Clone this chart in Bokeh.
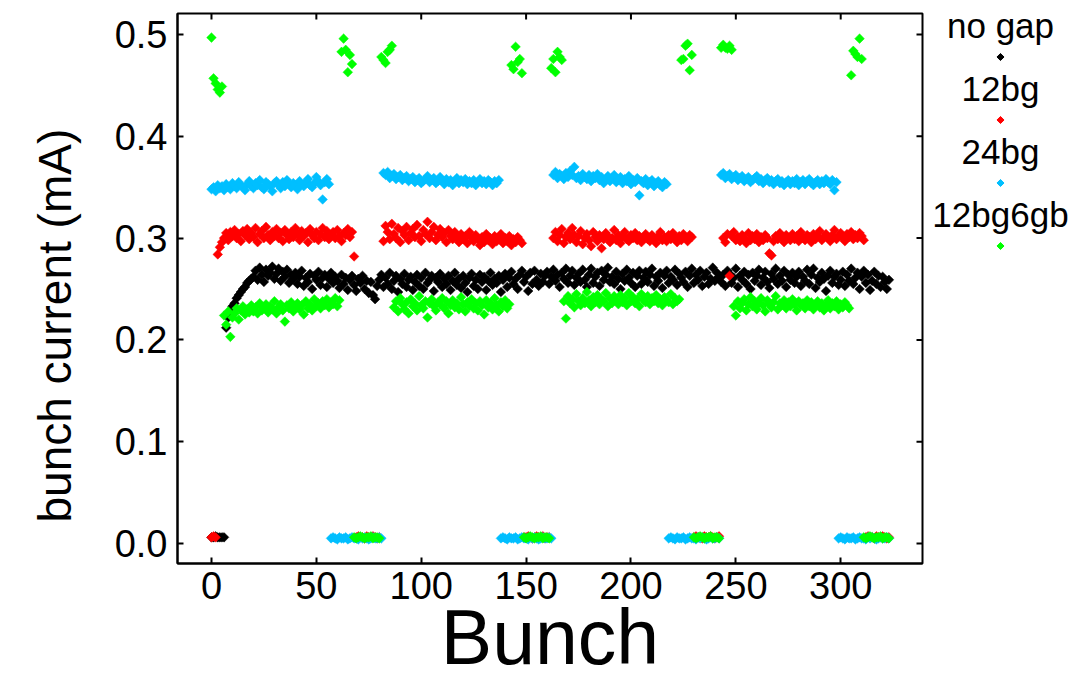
import math
from bokeh.plotting import figure
from bokeh.layouts import row
from bokeh.models import Range1d, FixedTicker, ColumnDataSource, Title
from bokeh.core.properties import value
from bokeh.embed import file_html
from bokeh.resources import INLINE

FONT = "Liberation Sans"

series_names = ["no gap", "12bg", "24bg", "12bg6gb"]
series_colors = ["#000000", "#ff0000", "#00bfff", "#00ff00"]

# Each series: runs of (first bunch number, bunch currents in units of 0.001 mA)
nogap_runs = [
    (0, [6, 6, 7, 6, 6, 6, 6]),
    (7, [212, 222, 228, 233, 236, 241, 244, 247, 250, 252, 256, 258, 260,
         262, 268, 259, 271, 264, 257, 269, 263, 266, 272, 260, 265, 270, 258, 267, 262, 269, 256, 264, 260,
         266, 255, 262, 268, 253, 261, 257, 265, 250, 263, 259, 267, 254, 261, 264, 252, 260, 266, 256, 262,
         258, 251, 264, 255, 261, 249, 259, 263, 254, 248, 260, 256, 263, 250, 258, 246, 257, 244, 240, 253,
         259, 264, 252, 261, 255, 266, 250, 258, 263, 247, 260, 255, 265, 252, 259, 262, 249, 257, 264, 253,
         261, 250, 266, 256, 259, 263, 248, 261, 257, 265, 252, 260, 255, 263, 249, 258, 266, 254, 260, 251,
         263, 256, 247, 261, 265, 253, 259, 250, 264, 257, 262, 249, 258, 266, 254, 260, 256, 263, 247, 259,
         265, 252, 261, 267, 255, 260, 250, 264, 268, 257, 262, 248, 266, 255, 268, 259, 253, 265, 257, 263,
         267, 255, 262, 269, 258, 264, 252, 266, 260, 270, 256, 263, 268, 254, 261, 265, 257, 269, 259, 252,
         264, 270, 256, 262, 266, 253, 268, 259, 264, 271, 257, 262, 255, 267, 260, 250, 265, 258, 269, 261,
         256, 266, 252, 263, 268, 255, 261, 267, 257, 264, 270, 253, 262, 258, 266, 251, 263, 268, 256, 262,
         259, 269, 254, 265, 261, 257, 267, 252, 263, 270, 256, 264, 259, 268, 253, 262, 266, 255, 260, 271,
         258, 266, 262, 257, 264, 253, 268, 265, 256, 261, 270, 252, 263, 259, 267, 255, 264, 250, 266, 258,
         263, 269, 254, 261, 267, 257, 251, 265, 260, 270, 255, 263, 258, 268, 252, 264, 259, 266, 256, 262,
         267, 253, 262, 258, 269, 255, 264, 270, 251, 261, 257, 266, 260, 248, 263, 268, 256, 262, 265, 254,
         259, 267, 253, 264, 258, 270, 255, 261, 266, 250, 262, 268, 256, 264, 249, 258, 267, 255, 263, 252,
         262, 257, 250, 259]),
]

bg12_runs = [
    (0, [6, 7, 6]),
    (3, [284, 291, 296, 300, 305, 298, 306, 302, 308, 300, 304, 297, 307, 303, 309, 299, 305, 301, 310, 296,
         304, 307, 300, 311, 303, 298, 306, 302, 309, 300, 305, 297, 308, 303, 299, 306, 301, 310, 304, 298,
         307, 302, 305, 296, 309, 303, 300, 306, 298, 304, 310, 301, 307, 299, 303, 306, 300, 308, 302, 297,
         305, 303, 309, 301, 306, 282]),
    (69, [6, 7, 6, 6, 5, 7, 6, 6, 7, 6, 5, 6]),
    (82, [297, 312, 306, 299, 314, 304, 300, 310, 296, 307, 303, 311, 298, 305, 309, 301, 313, 302, 297, 308,
          304, 316, 300, 306, 311, 298, 303, 309, 301, 305, 296, 308, 302, 299, 306, 301, 296, 304, 299, 302,
          295, 306, 300, 297, 303, 299, 293, 301, 296, 304, 298, 300, 294, 302, 297, 299, 304, 295, 300, 297,
          302, 293, 299, 296, 301, 298, 295]),
    (149, [6, 6, 7, 6, 5, 6, 7, 6, 6, 7, 5, 6, 6]),
    (163, [300, 306, 297, 303, 309, 295, 301, 305, 299, 310, 303, 296, 302, 307, 294, 300, 304, 298, 292, 306,
           301, 297, 303, 290, 299, 305, 302, 296, 300, 308, 298, 303, 295, 301, 306, 299, 297, 303, 300, 305,
           298, 302, 296, 301, 304, 299, 297, 303, 300, 295, 302, 306, 298, 301, 297, 303, 299, 305, 300, 296,
           302, 298, 304, 300, 297, 303, 301]),
    (230, [6, 7, 6, 6, 5, 7, 6, 6, 7, 6, 5, 6, 7]),
    (244, [300, 296, 304, 263, 302, 306, 298, 301, 297, 303, 300, 295, 305, 298, 302, 299, 304, 296, 301, 298,
           303, 300, 285, 283, 297, 302, 299, 305, 301, 296, 303, 300, 298, 304, 299, 302, 297, 306, 300, 298,
           303, 301, 296, 304, 299, 302, 307, 298, 301, 304, 300, 297, 303, 308, 299, 302, 305, 300, 297, 304,
           301, 306, 299, 303, 300, 305, 302, 298]),
    (312, [6, 7, 6, 6, 5, 7, 6, 6, 7, 6, 5, 6]),
]

bg24_runs = [
    (0, [348, 350, 346, 352, 349, 351, 347, 353, 350, 348, 354, 351, 349, 355, 352, 350, 347, 353, 356, 351,
         349, 354, 352, 357, 350, 348, 355, 353, 351, 346, 354, 356, 352, 349, 355, 351, 357, 353, 350, 354,
         352, 348, 356, 353, 351, 355, 358, 352, 350, 354, 360, 356, 352, 338, 355, 358, 353]),
    (57, [5, 6, 5, 4, 6, 5, 5, 6, 4, 5, 6, 5, 5, 4, 6, 5, 6, 5, 4, 5, 6, 5, 5, 6, 5]),
    (82, [364, 362, 365, 359, 361, 363, 358, 360, 362, 357, 359, 361, 356, 358, 360, 355, 357, 359, 354, 356,
          358, 361, 355, 357, 359, 354, 356, 360, 357, 353, 358, 355, 357, 352, 356, 359, 354, 357, 355, 358,
          353, 356, 354, 357, 352, 355, 358, 354, 356, 353, 357, 355, 352, 356, 354, 357]),
    (138, [5, 6, 5, 4, 6, 5, 5, 6, 4, 5, 6, 5, 5, 4, 6, 5, 6, 5, 4, 5, 6, 5, 5, 6, 5]),
    (163, [362, 365, 359, 363, 361, 358, 364, 360, 366, 362, 370, 359, 361, 357, 363, 360, 358, 362, 356, 361,
           359, 363, 357, 360, 354, 358, 361, 356, 359, 362, 355, 357, 360, 354, 358, 356, 361, 353, 357, 355,
           359, 342, 356, 354, 358, 352, 355, 357, 351, 354, 356, 352, 350, 355, 353]),
    (218, [5, 6, 5, 4, 6, 5, 5, 6, 4, 5, 6, 5, 5, 4, 6, 5, 6, 5, 4, 5, 6, 5, 5, 6, 5]),
    (243, [362, 364, 359, 361, 363, 358, 360, 362, 357, 359, 361, 356, 358, 360, 355, 357, 359, 361, 356, 358,
           354, 357, 359, 355, 357, 353, 356, 358, 354, 356, 352, 355, 357, 353, 356, 354, 358, 352, 355, 357,
           353, 356, 358, 354, 352, 355, 357, 353, 356, 354, 358, 355, 353, 357, 347, 355]),
    (299, [5, 6, 5, 4, 6, 5, 5, 6, 4, 5, 6, 5, 5, 4, 6, 5, 6, 5, 4, 5, 6, 5, 5, 6, 5]),
]

bg12gb6_runs = [
    (0, [497, 457, 452, 446, 443, 449,
         224, 215, 228, 203, 222, 226, 231, 220, 229, 233, 225, 230, 227, 234, 228, 232, 226, 236, 229, 231,
         235, 227, 233, 230, 238, 226, 232, 235, 229, 218, 234, 231, 237, 228, 233, 236, 230, 234, 225, 238,
         231, 235, 229, 240, 233, 236, 231, 238, 234, 240, 232, 237, 235, 241, 233, 239,
         483, 496, 485, 463, 480, 471]),
    (68, [6, 5, 6, 7, 6, 5, 6, 6, 7, 5, 6, 6, 5]),
    (81, [478, 475, 472, 483, 485, 489,
          232, 238, 228, 241, 235, 230, 237, 226, 240, 233, 236, 229, 243, 234, 231, 238, 222, 236, 240, 233,
          229, 237, 235, 241, 231, 238, 226, 234, 239, 232, 236, 230, 242, 235, 228, 237, 233, 240, 231, 236,
          229, 238, 234, 225, 239, 232, 236, 230, 241, 234, 228, 237, 233, 239, 231, 235,
          470, 466, 488, 473, 476, 462]),
    (149, [6, 5, 6, 7, 6, 5, 6, 6, 7, 5, 6, 6, 5]),
    (162, [467, 476, 463, 483, 478, 475,
           238, 221, 243, 236, 240, 232, 245, 238, 234, 241, 236, 247, 239, 233, 242, 237, 244, 235, 240, 238,
           246, 233, 241, 236, 243, 239, 235, 244, 237, 241, 234, 246, 238, 242, 236, 240, 233, 245, 239, 237,
           243, 235, 241, 238, 244, 236, 240, 234, 242, 239, 237, 245, 235, 241, 238, 240,
           475, 476, 489, 491, 465, 480]),
    (230, [6, 5, 6, 7, 6, 5, 6, 6, 7, 5, 6, 6, 5]),
    (243, [487, 490, 487, 486, 489, 485,
           233, 224, 238, 231, 236, 240, 229, 235, 242, 233, 238, 230, 236, 241, 234, 228, 239, 235, 232, 237,
           243, 230, 236, 234, 239, 231, 237, 233, 240, 235, 229, 238, 234, 236, 231, 239, 233, 237, 230, 235,
           238, 232, 236, 229, 234, 239, 231, 236, 233, 238, 230, 235, 232, 237, 234, 231,
           460, 484, 481, 478, 496, 476]),
    (311, [6, 5, 6, 7, 6, 5, 6, 6, 7, 5, 6, 6, 5]),
]

all_runs = [nogap_runs, bg12_runs, bg24_runs, bg12gb6_runs]

x_ticks = [0, 50, 100, 150, 200, 250, 300]
y_ticks = [0.0, 0.1, 0.2, 0.3, 0.4, 0.5]
y_tick_labels = ["0.0", "0.1", "0.2", "0.3", "0.4", "0.5"]
x_label = "Bunch"
y_label = "bunch current (mA)"

X0, X1 = -16.2, 339.0
Y0, Y1 = -0.0197, 0.5207


def expand(runs):
    xs, ys = [], []
    for start, vals in runs:
        for i, v in enumerate(vals):
            xs.append(start + i)
            ys.append(v / 1000.0)
    return xs, ys


p = figure(width=930, height=682,
           x_range=Range1d(X0, X1), y_range=Range1d(Y0, Y1),
           output_backend="svg", toolbar_location=None,
           min_border_left=177, min_border_right=8, min_border_top=13, min_border_bottom=119,
           x_axis_label=x_label)
p.background_fill_color = "white"
p.border_fill_color = "white"
p.xgrid.visible = False
p.ygrid.visible = False
p.outline_line_color = "black"
p.outline_line_width = 2

for ax in (p.xaxis[0], p.yaxis[0]):
    ax.axis_line_width = 2
    ax.major_tick_in = 6
    ax.major_tick_out = 0
    ax.major_tick_line_width = 2
    ax.minor_tick_line_color = None
    ax.major_label_text_font = FONT
    ax.major_label_text_font_size = "38px"
    ax.major_label_text_color = "black"
    ax.axis_label_text_font = FONT
    ax.axis_label_text_font_style = "normal"
    ax.axis_label_text_color = "black"

p.xaxis.ticker = FixedTicker(ticks=x_ticks)
p.yaxis.ticker = FixedTicker(ticks=y_ticks)
p.yaxis.major_label_overrides = {t: l for t, l in zip(y_ticks, y_tick_labels)}
p.xaxis.axis_label_text_font_size = "77px"
p.xaxis.major_label_standoff = 8
p.xaxis.axis_label_standoff = -8
p.yaxis.major_label_standoff = 10

ytitle = Title(text=y_label, align="left", offset=41, vertical_align="top",
               text_font=FONT, text_font_size="46px", text_font_style="normal", text_color="black")
if "standoff" in Title.properties():
    ytitle.standoff = 57
p.add_layout(ytitle, "left")

# mirrored inward ticks on the top and right frame edges
p.scatter(x=x_ticks, y=[Y1] * len(x_ticks), marker="dash", angle=math.pi / 2, size=12,
          line_color="black", line_width=2)
p.scatter(x=[X1] * len(y_ticks), y=y_ticks, marker="dash", angle=0, size=12,
          line_color="black", line_width=2)

for runs, color in zip(all_runs, series_colors):
    xs, ys = expand(runs)
    src = ColumnDataSource(data=dict(x=xs, y=ys))
    p.scatter("x", "y", source=src, marker="square", angle=math.pi / 4, size=6.8,
              fill_color=color, line_color=color, line_width=0.5)

# Legend panel on the right: label above its marker (y in screen pixels from top)
leg = figure(width=139, height=682, x_range=Range1d(0, 139), y_range=Range1d(563, 13),
             output_backend="svg", toolbar_location=None,
             min_border_left=0, min_border_right=0, min_border_top=13, min_border_bottom=119)
leg.axis.visible = False
leg.xgrid.visible = False
leg.ygrid.visible = False
leg.outline_line_color = None
leg.background_fill_color = "white"
leg.border_fill_color = "white"

n = len(series_names)
text_y = [24.5 + 63 * i for i in range(n)]
mark_y = [56.5 + 63 * i for i in range(n)]
cx = [70] * n
leg.text(x=cx, y=text_y, text=series_names, text_align="center", text_baseline="middle",
         text_font=value(FONT), text_font_size="35px", text_color="black")
leg.scatter(x=cx, y=mark_y, marker="square", angle=math.pi / 4, size=5,
            fill_color=series_colors, line_color=series_colors)

layout = row(p, leg, spacing=0)
open("out.html", "w").write(file_html(layout, INLINE))
